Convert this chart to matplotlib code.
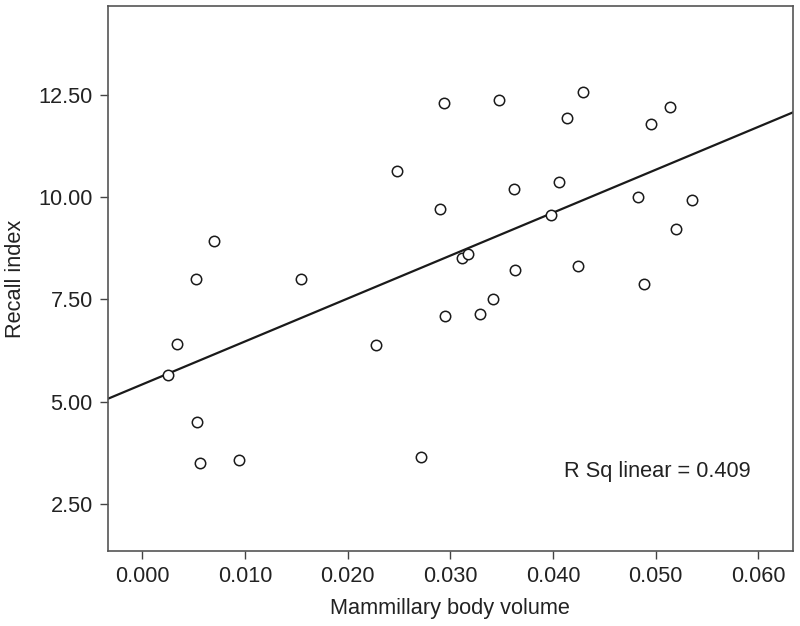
import numpy as np
import matplotlib
matplotlib.use("Agg")
import matplotlib.pyplot as plt

plt.rcParams['font.family'] = ['Liberation Sans', 'DejaVu Sans']

# mammillary body volume vs recall index
volume = [0.00695, 0.00526, 0.01545, 0.02483, 0.02935, 0.0347, 0.04288, 0.04135,
          0.05141, 0.04956, 0.03622, 0.0406, 0.02899, 0.03982, 0.04824, 0.05359,
          0.05197, 0.0311, 0.03168, 0.03632, 0.04242, 0.04888, 0.03415, 0.03288,
          0.02947, 0.00341, 0.0025, 0.00536, 0.00565, 0.00939, 0.02273, 0.02714]
recall = [8.94, 8.00, 8.00, 10.65, 12.29, 12.37, 12.57, 11.93,
          12.21, 11.78, 10.21, 10.36, 9.71, 9.57, 10.01, 9.94,
          9.22, 8.51, 8.60, 8.21, 8.33, 7.87, 7.52, 7.15,
          7.09, 6.42, 5.66, 4.50, 3.51, 3.57, 6.38, 3.66]

x_ticks = [0.0, 0.01, 0.02, 0.03, 0.04, 0.05, 0.06]
y_ticks = [2.5, 5.0, 7.5, 10.0, 12.5]
r_sq = 0.409

FS = 15.7

x = np.array(volume)
y = np.array(recall)
slope, intercept = np.polyfit(x, y, 1)

fig = plt.figure(figsize=(8, 6.26), dpi=100)
ax = fig.add_axes([0.135, 0.12, 0.856, 0.8705])

xlim = (-0.00334, 0.06336)
ax.set_xlim(xlim)
ax.set_ylim(1.36, 14.67)

xl = np.array(xlim)
ax.plot(xl, intercept + slope * xl, color='#1a1a1a', lw=1.6)
ax.plot(x, y, 'o', mfc='white', mec='#1a1a1a', ms=7.5, mew=1.1, ls='none')

ax.text(0.04106, 3.30, "R Sq linear = " + str(r_sq), fontsize=FS,
        va='center', ha='left', color='#222222')

ax.set_xticks(x_ticks)
ax.set_xticklabels(["%.3f" % v for v in x_ticks])
ax.set_yticks(y_ticks)
ax.set_yticklabels(["%.2f" % v for v in y_ticks])
ax.tick_params(direction='out', length=6, width=1, colors='#444444',
               labelsize=FS, labelcolor='#222222', pad=5)
for s in ax.spines.values():
    s.set_color('#555555')
    s.set_linewidth(1.2)

ax.set_xlabel("Mammillary body volume", fontsize=FS, color='#222222', labelpad=8)
ax.set_ylabel("Recall index", fontsize=FS, color='#222222', labelpad=9)

fig.savefig("out.png", dpi=100)
